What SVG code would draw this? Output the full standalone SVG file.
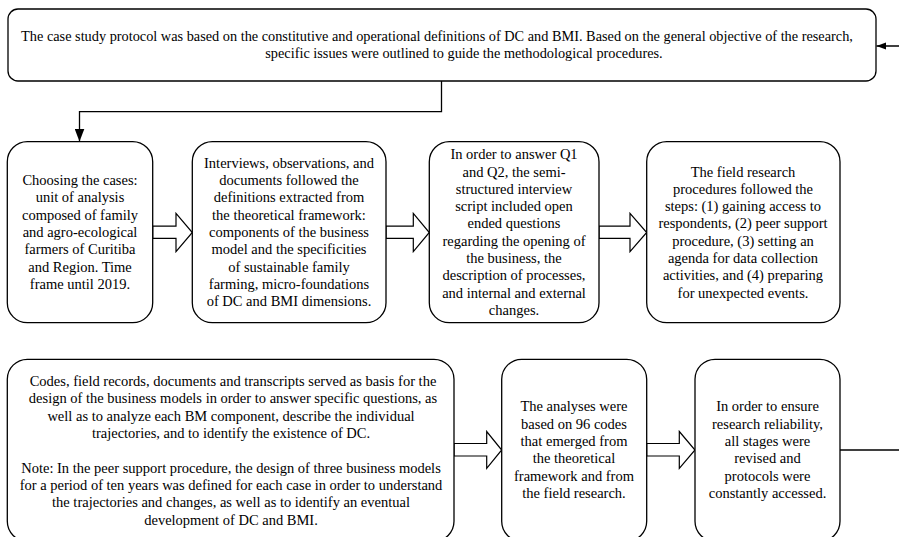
<svg xmlns="http://www.w3.org/2000/svg" width="899" height="537" viewBox="0 0 899 537">
<style>
.box{fill:#fff;stroke:#000;stroke-width:1.3}
.blk{fill:#fff;stroke:#000;stroke-width:1.2;stroke-linejoin:miter}
.ln{fill:none;stroke:#000;stroke-width:1.3}
.t text{font-size:14.5px;fill:#000;text-anchor:middle}
.t .sm{font-size:14.3px}
</style>
<defs>
<marker id="ahDown" markerUnits="userSpaceOnUse" markerWidth="13" markerHeight="10" refX="13" refY="5" orient="auto"><path d="M0,0 L13,5 L0,10 z" fill="#000"/></marker>
<marker id="ahSmall" markerUnits="userSpaceOnUse" markerWidth="10" markerHeight="8" refX="9.5" refY="3.5" orient="auto"><path d="M0,0 L9.5,3.5 L0,7 z" fill="#000"/></marker>
</defs>
<rect width="899" height="537" fill="#fff"/>
<g id="connectors">
<path class="ln" d="M441.5 81 V111.7 H79.5 V141.5" marker-end="url(#ahDown)"/>
<path class="ln" d="M840 450 H899.8 V46 H876.5" marker-end="url(#ahSmall)"/>
<polygon class="blk" points="152.7,226.2 176,226.2 176,213.3 192.3,232.5 176,251.7 176,238.4 152.7,238.4"/>
<polygon class="blk" points="386,226.2 413.3,226.2 413.3,213.3 429.3,232.5 413.3,251.7 413.3,238.4 386,238.4"/>
<polygon class="blk" points="599,226.2 630,226.2 630,213.3 646.7,232.5 630,251.7 630,238.4 599,238.4"/>
<polygon class="blk" points="454,443.5 486.7,443.5 486.7,431.5 501.7,450 486.7,468.3 486.7,456 454,456"/>
<polygon class="blk" points="646.7,443.5 679.3,443.5 679.3,431.5 695,450 679.3,468.3 679.3,456 646.7,456"/>
</g>
<g class="t" font-family="'Liberation Serif', 'Times New Roman', 'DejaVu Serif', serif">
<g id="n0">
<rect class="box" x="8" y="9" width="868" height="72" rx="10"/>
<text class="sm" x="437" y="41">The case study protocol was based on the constitutive and operational definitions of DC and BMI. Based on the general objective of the research,</text>
<text class="sm" x="464" y="58.3">specific issues were outlined to guide the methodological procedures.</text>
</g>
<g id="n1">
<rect class="box" x="7.3" y="141.7" width="145.4" height="181" rx="20"/>
<text x="80" y="185.1">Choosing the cases:</text>
<text x="80" y="202.4">unit of analysis</text>
<text x="80" y="219.7">composed of family</text>
<text x="80" y="237">and agro-ecological</text>
<text x="80" y="254.3">farmers of Curitiba</text>
<text x="80" y="271.6">and Region. Time</text>
<text x="80" y="288.9">frame until 2019.</text>
</g>
<g id="n2">
<rect class="box" x="192.3" y="141.7" width="193.7" height="181" rx="20"/>
<text x="289" y="167.8">Interviews, observations, and</text>
<text x="289" y="185.1">documents followed the</text>
<text x="289" y="202.4">definitions extracted from</text>
<text x="289" y="219.7">the theoretical framework:</text>
<text x="289" y="237">components of the business</text>
<text x="289" y="254.3">model and the specificities</text>
<text x="289" y="271.6">of sustainable family</text>
<text x="289" y="288.9">farming, micro-foundations</text>
<text x="289" y="306.2">of DC and BMI dimensions.</text>
</g>
<g id="n3">
<rect class="box" x="429.3" y="141.7" width="169.7" height="181" rx="20"/>
<text x="514" y="159.2">In order to answer Q1</text>
<text x="514" y="176.5">and Q2, the semi-</text>
<text x="514" y="193.8">structured interview</text>
<text x="514" y="211.1">script included open</text>
<text x="514" y="228.4">ended questions</text>
<text x="514" y="245.7">regarding the opening of</text>
<text x="514" y="263">the business, the</text>
<text x="514" y="280.3">description of processes,</text>
<text x="514" y="297.6">and internal and external</text>
<text x="514" y="314.9">changes.</text>
</g>
<g id="n4">
<rect class="box" x="646.7" y="141.7" width="193.3" height="181" rx="20"/>
<text x="743" y="176.5">The field research</text>
<text x="743" y="193.8">procedures followed the</text>
<text x="743" y="211.1">steps: (1) gaining access to</text>
<text x="743" y="228.4">respondents, (2) peer support</text>
<text x="743" y="245.7">procedure, (3) setting an</text>
<text x="743" y="263">agenda for data collection</text>
<text x="743" y="280.3">activities, and (4) preparing</text>
<text x="743" y="297.6">for unexpected events.</text>
</g>
<g id="n5">
<rect class="box" x="7.3" y="359.3" width="446.7" height="182" rx="20"/>
<text x="233" y="386.1">Codes, field records, documents and transcripts served as basis for the</text>
<text x="233" y="403.4">design of the business models in order to answer specific questions, as</text>
<text x="231" y="420.7">well as to analyze each BM component, describe the individual</text>
<text x="231" y="438">trajectories, and to identify the existence of DC.</text>
<text x="231" y="472.6">Note: In the peer support procedure, the design of three business models</text>
<text x="231" y="489.9">for a period of ten years was defined for each case in order to understand</text>
<text x="231" y="507.2">the trajectories and changes, as well as to identify an eventual</text>
<text x="231" y="524.5">development of DC and BMI.</text>
</g>
<g id="n6">
<rect class="box" x="501.7" y="359.3" width="145" height="182" rx="20"/>
<text x="574" y="411.3">The analyses were</text>
<text x="574" y="428.6">based on 96 codes</text>
<text x="574" y="445.9">that emerged from</text>
<text x="574" y="463.2">the theoretical</text>
<text x="574" y="480.5">framework and from</text>
<text x="574" y="497.8">the field research.</text>
</g>
<g id="n7">
<rect class="box" x="695" y="359.3" width="145" height="182" rx="20"/>
<text x="767.5" y="411.3">In order to ensure</text>
<text x="767.5" y="428.6">research reliability,</text>
<text x="767.5" y="445.9">all stages were</text>
<text x="767.5" y="463.2">revised and</text>
<text x="767.5" y="480.5">protocols were</text>
<text x="767.5" y="497.8">constantly accessed.</text>
</g>
</g>
</svg>
